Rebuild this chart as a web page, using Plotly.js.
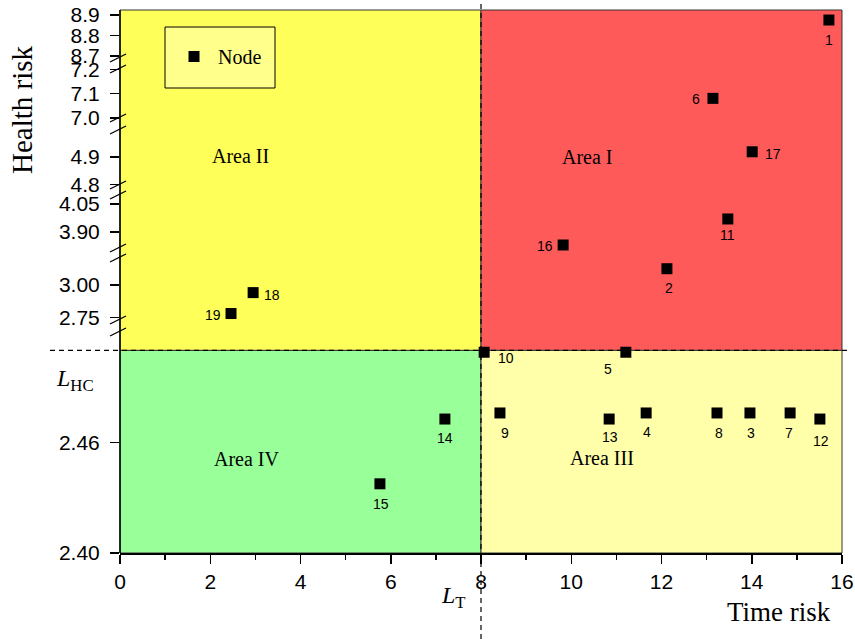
<!DOCTYPE html>
<html>
<head>
<meta charset="utf-8">
<script src="https://cdn.plot.ly/plotly-3.0.1.min.js"></script>
<style>html,body{margin:0;padding:0;background:#fff;}#chart{width:855px;height:639px;}</style>
</head>
<body>
<div id="chart"></div>
<script>
// ---- data ----
const nodeIds = [1, 2, 3, 4, 5, 6, 7, 8, 9, 10, 11, 12, 13, 14, 15, 16, 17, 18, 19];
const timeRisk = [15.71, 12.12, 13.96, 11.66, 11.21, 13.14, 14.85, 13.23, 8.42, 8.07, 13.47, 15.51, 10.84, 7.20, 5.76, 9.82, 14.01, 2.95, 2.46];
const healthRisk = [8.876, 3.127, 2.476, 2.476, 2.509, 7.08, 2.476, 2.476, 2.476, 2.509, 3.97, 2.4727, 2.4727, 2.4727, 2.4375, 3.831, 4.918, 2.942, 2.78];
const thresholdT = 8;      // L_T
const thresholdHC = 2.51;  // L_HC
const xTickVals = [0, 2, 4, 6, 8, 10, 12, 14, 16];
const yTickVals = [[2.40, 2.46], [2.75, 3.00], [3.90, 4.05], [4.8, 4.9], [7.0, 7.1, 7.2], [8.7, 8.8, 8.9]];
const yTickText = [['2.40', '2.46'], ['2.75', '3.00'], ['3.90', '4.05'], ['4.8', '4.9'], ['7.0', '7.1', '7.2'], ['8.7', '8.8', '8.9']];
const areaNames = ['Area I', 'Area II', 'Area III', 'Area IV'];

// ---- styles / layout ----
// label offsets (px) of each node's number from its marker centre
const labelDx = [0, 2, 1, 1, -18, -17, -1, 2, 5, 22, 0, 1, 1, 0, 1, -18, 21, 19, -18];
const labelDy = [20, 19, 20, 19, 17, 1, 20, 20, 20, 6, 16, 22, 18, 19, 20, 1, 2, 2, 1];
const segRanges = [[2.3999, 2.52], [2.73, 3.21], [3.815, 4.098], [4.799, 4.996], [6.999, 7.201], [8.69, 8.925]];
const segDomains = [[0, 0.407], [0.4291, 0.5433], [0.5617, 0.6593], [0.6777, 0.779], [0.8011, 0.8913], [0.9116, 1]];
const W = 722, H = 543;
const px = 1 / W, py = 1 / H;

const C_YEL = '#FFFF5A', C_RED = '#FF5A5A', C_GRN = '#99FF99', C_LYEL = '#FFFFAA';
const sans = 'Liberation Sans, Arial, sans-serif';
const tickFont = {family: sans, size: 21, color: '#000'};
const serif = 'Liberation Serif, Times New Roman, serif';

const traces = [];
const layout = {
  width: 855, height: 639,
  margin: {l: 120, r: 13, t: 10, b: 86},
  paper_bgcolor: '#fff', plot_bgcolor: 'rgba(0,0,0,0)',
  showlegend: true,
  legend: {x: 50 * px, y: (553 - 37) * py, xanchor: 'left', yanchor: 'top', bgcolor: 'rgba(0,0,0,0)',
    borderwidth: 0, itemwidth: 38, font: {family: serif, size: 20, color: '#000'}},
  xaxis: {range: [0, 16], tickvals: xTickVals, ticks: 'outside', ticklen: 9, tickwidth: 1.5, tickcolor: '#000',
    showline: true, linecolor: '#000', linewidth: 1.5, showgrid: false, zeroline: false, tickfont: tickFont,
    minor: {dtick: 1, ticks: 'outside', ticklen: 5, tickwidth: 1.5, tickcolor: '#000', showgrid: false}},
  shapes: [], annotations: []
};
const A = layout.annotations;

segRanges.forEach((r, i) => {
  const key = i === 0 ? 'yaxis' : 'yaxis' + (i + 1);
  layout[key] = {range: r, domain: segDomains[i], anchor: 'x', tickvals: yTickVals[i], ticktext: yTickText[i],
    ticks: 'outside', ticklen: 9, tickwidth: 1.5, tickcolor: '#000', showline: false, showgrid: false,
    zeroline: false, tickfont: tickFont, ticklabelstandoff: 6};
  const idx = healthRisk.map((v, k) => k).filter(k => healthRisk[k] >= r[0] && healthRisk[k] <= r[1]);
  const yref = i === 0 ? 'y' : 'y' + (i + 1);
  traces.push({x: idx.map(k => timeRisk[k]), y: idx.map(k => healthRisk[k]), yaxis: yref, type: 'scatter',
    mode: 'markers', name: 'Node', showlegend: i === 0, cliponaxis: false,
    marker: {symbol: 'square', size: 11, color: '#000'}, hoverinfo: 'skip'});
  idx.forEach(k => A.push({xref: 'x', yref: yref, x: timeRisk[k], y: healthRisk[k], text: String(nodeIds[k]),
    showarrow: false, xanchor: 'center', yanchor: 'middle', xshift: labelDx[k], yshift: -labelDy[k],
    font: {family: sans, size: 14, color: '#000'}}));
});

// paper position of L_HC and L_T
const r0 = segRanges[0], d0 = segDomains[0];
const hcP = d0[0] + (thresholdHC - r0[0]) / (r0[1] - r0[0]) * (d0[1] - d0[0]);
const tP = thresholdT / 16;

const S = layout.shapes;
const rect = (x0, x1, y0, y1, fill) => S.push({type: 'rect', xref: 'paper', yref: 'paper', x0, x1, y0, y1,
  fillcolor: fill, line: {color: '#333', width: 1}, layer: 'below'});
rect(0, tP, hcP, 1, C_YEL);
rect(tP, 1, hcP, 1, C_RED);
rect(0, tP, 0, hcP, C_GRN);
rect(tP, 1, 0, hcP, C_LYEL);
// legend box
S.push({type: 'rect', xref: 'paper', yref: 'paper', x0: 45 * px, x1: 155 * px, y0: (553 - 88) * py, y1: (553 - 27) * py,
  fillcolor: '#FFFF8C', line: {color: '#000', width: 1}, layer: 'below'});
// dashed threshold lines
S.push({type: 'line', xref: 'paper', yref: 'paper', x0: -70 * px, x1: 1 + 8 * px, y0: hcP, y1: hcP,
  line: {color: '#000', width: 1.2, dash: '5px,4px'}});
S.push({type: 'line', xref: 'paper', yref: 'paper', x0: tP, x1: tP, y0: -86 * py, y1: 1 + 10 * py,
  line: {color: '#000', width: 1.2, dash: '5px,4px'}});
// continuous left axis line
S.push({type: 'line', xref: 'paper', yref: 'paper', x0: 0, x1: 0, y0: 0, y1: 1, line: {color: '#000', width: 1.5}});
// break marks
for (let i = 0; i < segDomains.length; i++) {
  const edges = [];
  if (i > 0) edges.push(segDomains[i][0]);
  if (i < segDomains.length - 1) edges.push(segDomains[i][1]);
  edges.forEach(y => S.push({type: 'line', xref: 'paper', yref: 'paper', x0: -10 * px, x1: 6 * px,
    y0: y - 4 * py, y1: y + 4 * py, line: {color: '#000', width: 1.3}}));
}

const ann = (x, y, text, size, extra) => A.push(Object.assign({xref: 'paper', yref: 'paper', x, y, text,
  showarrow: false, xanchor: 'center', yanchor: 'middle', font: {family: serif, size, color: '#000'}}, extra || {}));
ann((587 - 120) * px, (553 - 157) * py, areaNames[0], 20);
ann((240 - 120) * px, (553 - 156) * py, areaNames[1], 20);
ann((602 - 120) * px, (553 - 458) * py, areaNames[2], 20);
ann((247 - 120) * px, (553 - 459) * py, areaNames[3], 20);
ann((22 - 120) * px, (553 - 110) * py, 'Health risk', 29, {textangle: -90});
ann((779 - 120) * px, (553 - 612) * py, 'Time risk', 27);
ann((75 - 120) * px, (553 - 380) * py, '<i>L</i><sub>HC</sub>', 24);
ann((453 - 120) * px, (553 - 597) * py, '<i>L</i><sub>T</sub>', 24);

Plotly.newPlot('chart', traces, layout, {displayModeBar: false, staticPlot: true});
</script>
</body>
</html>
